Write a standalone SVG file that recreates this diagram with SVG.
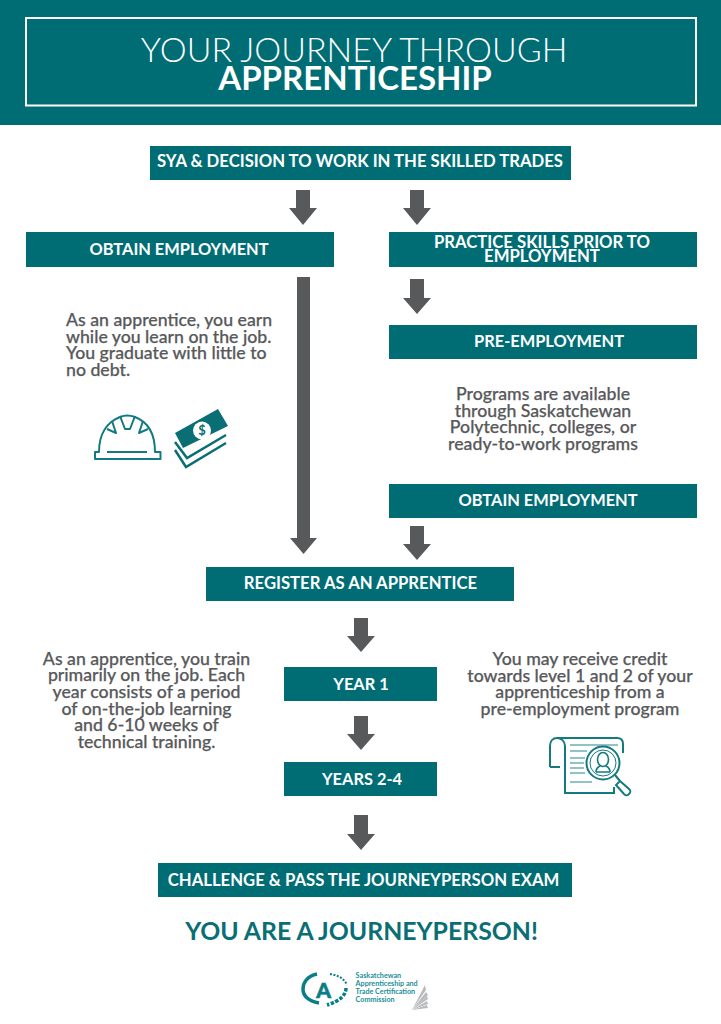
<svg xmlns="http://www.w3.org/2000/svg" width="721" height="1024" viewBox="0 0 721 1024">
<style>
text{font-family:"Lato","Liberation Sans",sans-serif;text-anchor:middle}
.box{fill:#006d75}
.lb{fill:#fff;font-size:16.700px;font-weight:700}
.ob{font-size:16.400px}
.bd{fill:#58595b;font-size:17.700px;font-weight:500;stroke:#58595b;stroke-width:.25px}
.ls{text-anchor:start}
.ar{fill:#58595b}
.ic{fill:none;stroke:#137a80;stroke-width:2}
.lg{fill:#1b8f96;font-size:7.200px;font-weight:700;text-anchor:start}
</style>
<rect width="721" height="1024" fill="#fff"/>
<g id="header">
<rect class="box" width="721" height="125"/>
<rect x="26" y="18" width="670" height="87.500" fill="none" stroke="#fff" stroke-width="2"/>
<text x="354" y="62" fill="#fff" font-size="34" font-weight="300">YOUR JOURNEY THROUGH</text>
<text x="355" y="90" fill="#fff" font-size="33" font-weight="700">APPRENTICESHIP</text>
</g>
<g id="connectors" class="ar">
<path d="M296 190h14v18h7l-14 17-14-17h7z"/>
<path d="M410 190h14v18h7l-14 17-14-17h7z"/>
<path d="M297 277h13v261h7l-13.500 16-13.500-16h7z"/>
<path d="M410 279h14v19h7l-14 16-14-16h7z"/>
<path d="M410 526h14v18h7l-14 16-14-16h7z"/>
<path d="M354 618h14v18h7l-14 16-14-16h7z"/>
<path d="M354 716h14v18h7l-14 16-14-16h7z"/>
<path d="M354 815h14v19h7l-14 16-14-16h7z"/>
</g>
<g id="n1"><rect class="box" x="150" y="146" width="421" height="34"/><text class="lb" x="360" y="167">SYA &amp; DECISION TO WORK IN THE SKILLED TRADES</text></g>
<g id="n2"><rect class="box" x="26" y="232" width="308" height="35"/><text class="lb ob" x="179" y="255">OBTAIN EMPLOYMENT</text></g>
<g id="n3"><rect class="box" x="389" y="232" width="308" height="35"/><text class="lb" x="542" y="248">PRACTICE SKILLS PRIOR TO</text><text class="lb" x="542" y="262">EMPLOYMENT</text></g>
<g id="n4"><rect class="box" x="389" y="325" width="308" height="34"/><text class="lb ob" x="549" y="347">PRE-EMPLOYMENT</text></g>
<g id="n5"><rect class="box" x="389" y="484" width="308" height="34"/><text class="lb ob" x="548" y="506">OBTAIN EMPLOYMENT</text></g>
<g id="n6"><rect class="box" x="206" y="567" width="308" height="34"/><text class="lb" x="360.500" y="589">REGISTER AS AN APPRENTICE</text></g>
<g id="n7"><rect class="box" x="284" y="667" width="153" height="34"/><text class="lb ob" x="361" y="690">YEAR 1</text></g>
<g id="n8"><rect class="box" x="284" y="762" width="153" height="34"/><text class="lb ob" x="362" y="785">YEARS 2-4</text></g>
<g id="n9"><rect class="box" x="158" y="863" width="414" height="34"/><text class="lb" x="363.500" y="886">CHALLENGE &amp; PASS THE JOURNEYPERSON EXAM</text></g>
<g id="t1">
<text class="bd ls" x="66" y="326">As an apprentice, you earn</text>
<text class="bd ls" x="66" y="343">while you learn on the job.</text>
<text class="bd ls" x="66" y="359">You graduate with little to</text>
<text class="bd ls" x="66" y="376">no debt.</text>
</g>
<g id="t2">
<text class="bd" x="543" y="400">Programs are available</text>
<text class="bd" x="543" y="417">through Saskatchewan</text>
<text class="bd" x="543" y="433">Polytechnic, colleges, or</text>
<text class="bd" x="543" y="450">ready-to-work programs</text>
</g>
<g id="t3">
<text class="bd" x="146.500" y="665">As an apprentice, you train</text>
<text class="bd" x="146.500" y="681">primarily on the job. Each</text>
<text class="bd" x="146.500" y="698">year consists of a period</text>
<text class="bd" x="146.500" y="715">of on-the-job learning</text>
<text class="bd" x="146.500" y="731">and 6-10 weeks of</text>
<text class="bd" x="146.500" y="748">technical training.</text>
</g>
<g id="t4">
<text class="bd" x="580" y="665">You may receive credit</text>
<text class="bd" x="580" y="682">towards level 1 and 2 of your</text>
<text class="bd" x="580" y="698">apprenticeship from a</text>
<text class="bd" x="580" y="715">pre-employment program</text>
</g>
<g id="hat" class="ic" stroke-linejoin="round">
<path d="M99 452C99 434 107 422 120 417Q127 414 135 417C148 422 155 434 155 452h5.500v7H95v-7z"/>
<path d="M107 452h40M120 416l5 13h5l5-13M112 421l4 12-9-4M143 421l-4 12 9-4"/>
</g>
<g id="money">
<path d="M175 433l43-24 10 17-45 22z" fill="#0a6e75"/>
<circle cx="202" cy="430.500" r="9" fill="#fff"/>
<text x="202" y="435" fill="#0a6e75" font-size="13" font-weight="700">$</text>
<path d="M175 442l12 16 39-23M175 450l11 17 40-24" fill="none" stroke="#0a6e75" stroke-width="2.500"/>
</g>
<g id="doc" class="ic">
<path d="M550 767v-21c0-5 3-8 7-8s8 3 8 8v47h49v-6M557 738h60c4 0 6 2 6 6v9M550 767h10"/>
<path d="M570 745h48M570 751h17M570 758h15M570 763h14M570 768h14M570 773h15M570 782h22" stroke-width="1.500" stroke="#6db0b3"/>
<circle cx="603" cy="763" r="16.500" fill="#fff"/>
<circle cx="603" cy="763" r="13" stroke-width="1"/>
<path d="M615 775l5 6M620 781l9 8c2 2 2 3 0 5s-3 2-5 0l-8-9z"/>
<ellipse cx="603" cy="759.500" rx="5.500" ry="7" stroke-width="1.600"/>
<path d="M596 772c0-3 2-5 4-6M610 772c0-3-2-5-4-6M596 772h14" stroke-width="1.600"/>
</g>
<g id="final"><text x="361.500" y="940" fill="#0a6e75" font-size="24.800" font-weight="700">YOU ARE A JOURNEYPERSON!</text></g>
<g id="logo">
<path d="M317 974c-10 2-14 9-14 15 0 7 6 12 16 14" fill="none" stroke="#0a7e85" stroke-width="3.500"/>
<path d="M330 974c7 1 14 4 17 11" fill="none" stroke="#0a7e85" stroke-width="2" stroke-dasharray="2 1.500"/>
<path d="M346 988c0 7-6 13-19 17" fill="none" stroke="#0a7e85" stroke-width="3.500" stroke-dasharray="3.500 1.500"/>
<text x="323.500" y="998" fill="#0a7e85" font-size="21" font-weight="900" stroke="#0a7e85" stroke-width=".6">A</text>
<text class="lg" x="355.600" y="977.500">Saskatchewan</text>
<text class="lg" x="355.600" y="985.500">Apprenticeship and</text>
<text class="lg" x="355.600" y="993.500">Trade Certification</text>
<text class="lg" x="355.600" y="1001.500">Commission</text>
<g fill="#b9bcbe">
<path d="M412 1010l13-25 1 5z"/><path d="M412 1010l14-18 2 3z"/><path d="M412 1010l15-14 1 3z"/><path d="M412 1010l15-9 1 3z"/><path d="M412 1010l15-5 1 3z"/>
</g>
</g>
</svg>
